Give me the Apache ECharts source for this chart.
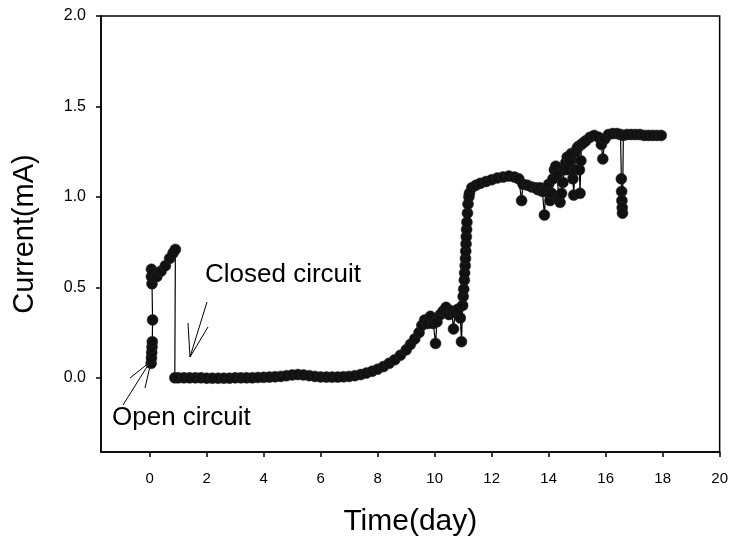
<!DOCTYPE html>
<html>
<head>
<meta charset="utf-8">
<script src="https://cdn.jsdelivr.net/npm/echarts@6/dist/echarts.min.js"></script>
<style>
  html, body { margin: 0; padding: 0; background: #fff; }
  #chart { width: 731px; height: 543px; }
</style>
</head>
<body>
<div id="chart"></div>
<script>
// time (day) and current (mA)
var days = [
  0.05, 0.06, 0.07, 0.08, 0.09, 0.10, 0.08, 0.06, 0.06, 0.12, 0.25, 0.40, 0.55, 0.70, 0.82, 0.90, 0.88,
  1.0, 1.2, 1.4, 1.6, 1.8, 2.0, 2.2, 2.4, 2.6, 2.8, 3.0, 3.2, 3.4, 3.6, 3.8, 4.0, 4.2, 4.4, 4.6, 4.8,
  5.0, 5.2, 5.4, 5.6, 5.8, 6.0, 6.2, 6.4, 6.6, 6.8, 7.0, 7.2, 7.4, 7.6, 7.8, 8.0, 8.2, 8.4, 8.6, 8.8,
  9.0, 9.15, 9.3, 9.45, 9.55, 9.65, 9.75, 9.85, 9.95, 10.03, 10.08, 10.2, 10.3, 10.4, 10.5, 10.6, 10.66,
  10.72, 10.82, 10.9, 10.94, 10.98, 11.0, 11.02, 11.04, 11.05, 11.07, 11.08, 11.09, 11.1, 11.11, 11.12,
  11.13, 11.15, 11.17, 11.2, 11.22, 11.3, 11.45, 11.6, 11.8,
  12.0, 12.2, 12.4, 12.6, 12.8, 12.95, 13.05, 13.1, 13.25, 13.4, 13.55, 13.62, 13.7, 13.78, 13.85, 13.9,
  13.95, 14.0, 14.05, 14.1, 14.15, 14.2, 14.25, 14.3, 14.35, 14.4, 14.45, 14.5, 14.55, 14.6, 14.65, 14.7,
  14.75, 14.8, 14.85, 14.88, 14.92, 14.95, 15.0, 15.05, 15.08, 15.1, 15.13, 15.15, 15.22, 15.3, 15.45,
  15.6, 15.75, 15.85, 15.9, 15.97, 16.1, 16.25, 16.4, 16.52, 16.55, 16.56, 16.57,
  16.58, 16.59, 16.62, 16.75, 16.9, 17.05, 17.2, 17.35, 17.5, 17.65, 17.8, 17.95
];
var current = [
  0.08, 0.11, 0.14, 0.17, 0.20, 0.32, 0.52, 0.56, 0.60, 0.58, 0.56, 0.59, 0.62, 0.66, 0.69, 0.71, 0.00,
  0.000, 0.000, 0.000, 0.000, 0.000, -0.002, -0.002, -0.002, -0.002, -0.002, 0.000, 0.000, 0.000, 0.000,
  0.002, 0.003, 0.004, 0.006, 0.008, 0.012,
  0.016, 0.018, 0.016, 0.012, 0.008, 0.005, 0.004, 0.004, 0.004, 0.006, 0.008, 0.012, 0.018, 0.026,
  0.036, 0.048, 0.062, 0.080, 0.100, 0.125,
  0.155, 0.185, 0.215, 0.25, 0.29, 0.32, 0.30, 0.34, 0.30, 0.19, 0.31, 0.35, 0.37, 0.39, 0.35, 0.37, 0.27,
  0.36, 0.38, 0.33, 0.20, 0.40, 0.45, 0.49, 0.54, 0.58, 0.62, 0.66, 0.70, 0.74, 0.78, 0.82,
  0.86, 0.91, 0.96, 1.00, 1.02, 1.05, 1.065, 1.075, 1.085,
  1.095, 1.105, 1.11, 1.115, 1.11, 1.10, 0.98, 1.07, 1.065, 1.055, 1.05, 1.04, 1.05, 1.03, 0.90, 1.03,
  1.05, 1.07, 0.98, 1.02, 1.10, 1.15, 1.17, 1.12, 1.00, 0.97, 1.02, 1.08, 1.15, 1.19, 1.22, 1.15,
  1.20, 1.24, 1.10, 1.01, 1.15, 1.25, 1.27, 1.28, 1.15, 1.02, 1.20, 1.29, 1.30, 1.31, 1.33,
  1.34, 1.33, 1.29, 1.21, 1.32, 1.345, 1.35, 1.35, 1.345, 1.10, 1.03, 0.98,
  0.94, 0.91, 1.34, 1.345, 1.345, 1.345, 1.345, 1.34, 1.34, 1.34, 1.34, 1.34
];
var xTicks = [0, 2, 4, 6, 8, 10, 12, 14, 16, 18, 20];
var yTicks = [0, 0.5, 1.0, 1.5, 2.0];

var points = days.map(function (d, i) {
  return [d, current[i]];
});

var chart = echarts.init(document.getElementById("chart"));
var font = "Liberation Sans, Arial, sans-serif";

chart.setOption({
  animation: false,
  backgroundColor: "#fff",
  grid: {
    left: 101,
    right: 9,
    top: 16,
    bottom: 91,
    show: true,
    borderColor: "#000",
    borderWidth: 1.5,
  },
  xAxis: {
    type: "value",
    min: -1.71,
    max: 20,
    splitLine: { show: false },
    axisLine: { onZero: false, lineStyle: { color: "#000", width: 1.5 } },
    axisTick: { customValues: xTicks, length: 5, lineStyle: { color: "#000", width: 1.5 } },
    axisLabel: {
      customValues: xTicks,
      color: "#000",
      fontFamily: font,
      fontSize: 15,
      margin: 19,
    },
    name: "Time(day)",
    nameLocation: "middle",
    nameGap: 55,
    nameTextStyle: { color: "#000", fontFamily: font, fontSize: 30 },
  },
  yAxis: {
    type: "value",
    min: -0.41,
    max: 2.0,
    splitLine: { show: false },
    axisLine: { onZero: false, lineStyle: { color: "#000", width: 1.5 } },
    axisTick: { customValues: yTicks, length: 5, lineStyle: { color: "#000", width: 1.5 } },
    axisLabel: {
      customValues: yTicks,
      color: "#000",
      fontFamily: font,
      fontSize: 16,
      margin: 15,
      formatter: function (v) {
        return v.toFixed(1);
      },
    },
    name: "Current(mA)",
    nameLocation: "middle",
    nameGap: 62,
    nameTextStyle: { color: "#000", fontFamily: font, fontSize: 29 },
  },
  series: [
    {
      type: "line",
      data: points,
      showAllSymbol: true,
      symbol: "circle",
      symbolSize: 11,
      lineStyle: { color: "#000", width: 1.2 },
      itemStyle: { color: "#111", borderColor: "#2a2a2a", borderWidth: 0.5 },
      z: 3,
    },
  ],
  graphic: [
    {
      type: "text",
      left: 205,
      top: 262,
      style: { text: "Closed circuit", fill: "#000", font: "26px " + font },
    },
    {
      type: "text",
      left: 112,
      top: 405,
      style: { text: "Open circuit", fill: "#000", font: "26px " + font },
    },
    { type: "line", shape: { x1: 207, y1: 302, x2: 190, y2: 357 }, style: { stroke: "#000", lineWidth: 1 } },
    { type: "line", shape: { x1: 188, y1: 323, x2: 190, y2: 357 }, style: { stroke: "#000", lineWidth: 1 } },
    { type: "line", shape: { x1: 208, y1: 327, x2: 190, y2: 357 }, style: { stroke: "#000", lineWidth: 1 } },
    { type: "line", shape: { x1: 150, y1: 362, x2: 123, y2: 405 }, style: { stroke: "#000", lineWidth: 1 } },
    { type: "line", shape: { x1: 150, y1: 362, x2: 130, y2: 378 }, style: { stroke: "#000", lineWidth: 1 } },
    { type: "line", shape: { x1: 151, y1: 362, x2: 145, y2: 388 }, style: { stroke: "#000", lineWidth: 1 } },
  ],
});
</script>
</body>
</html>
